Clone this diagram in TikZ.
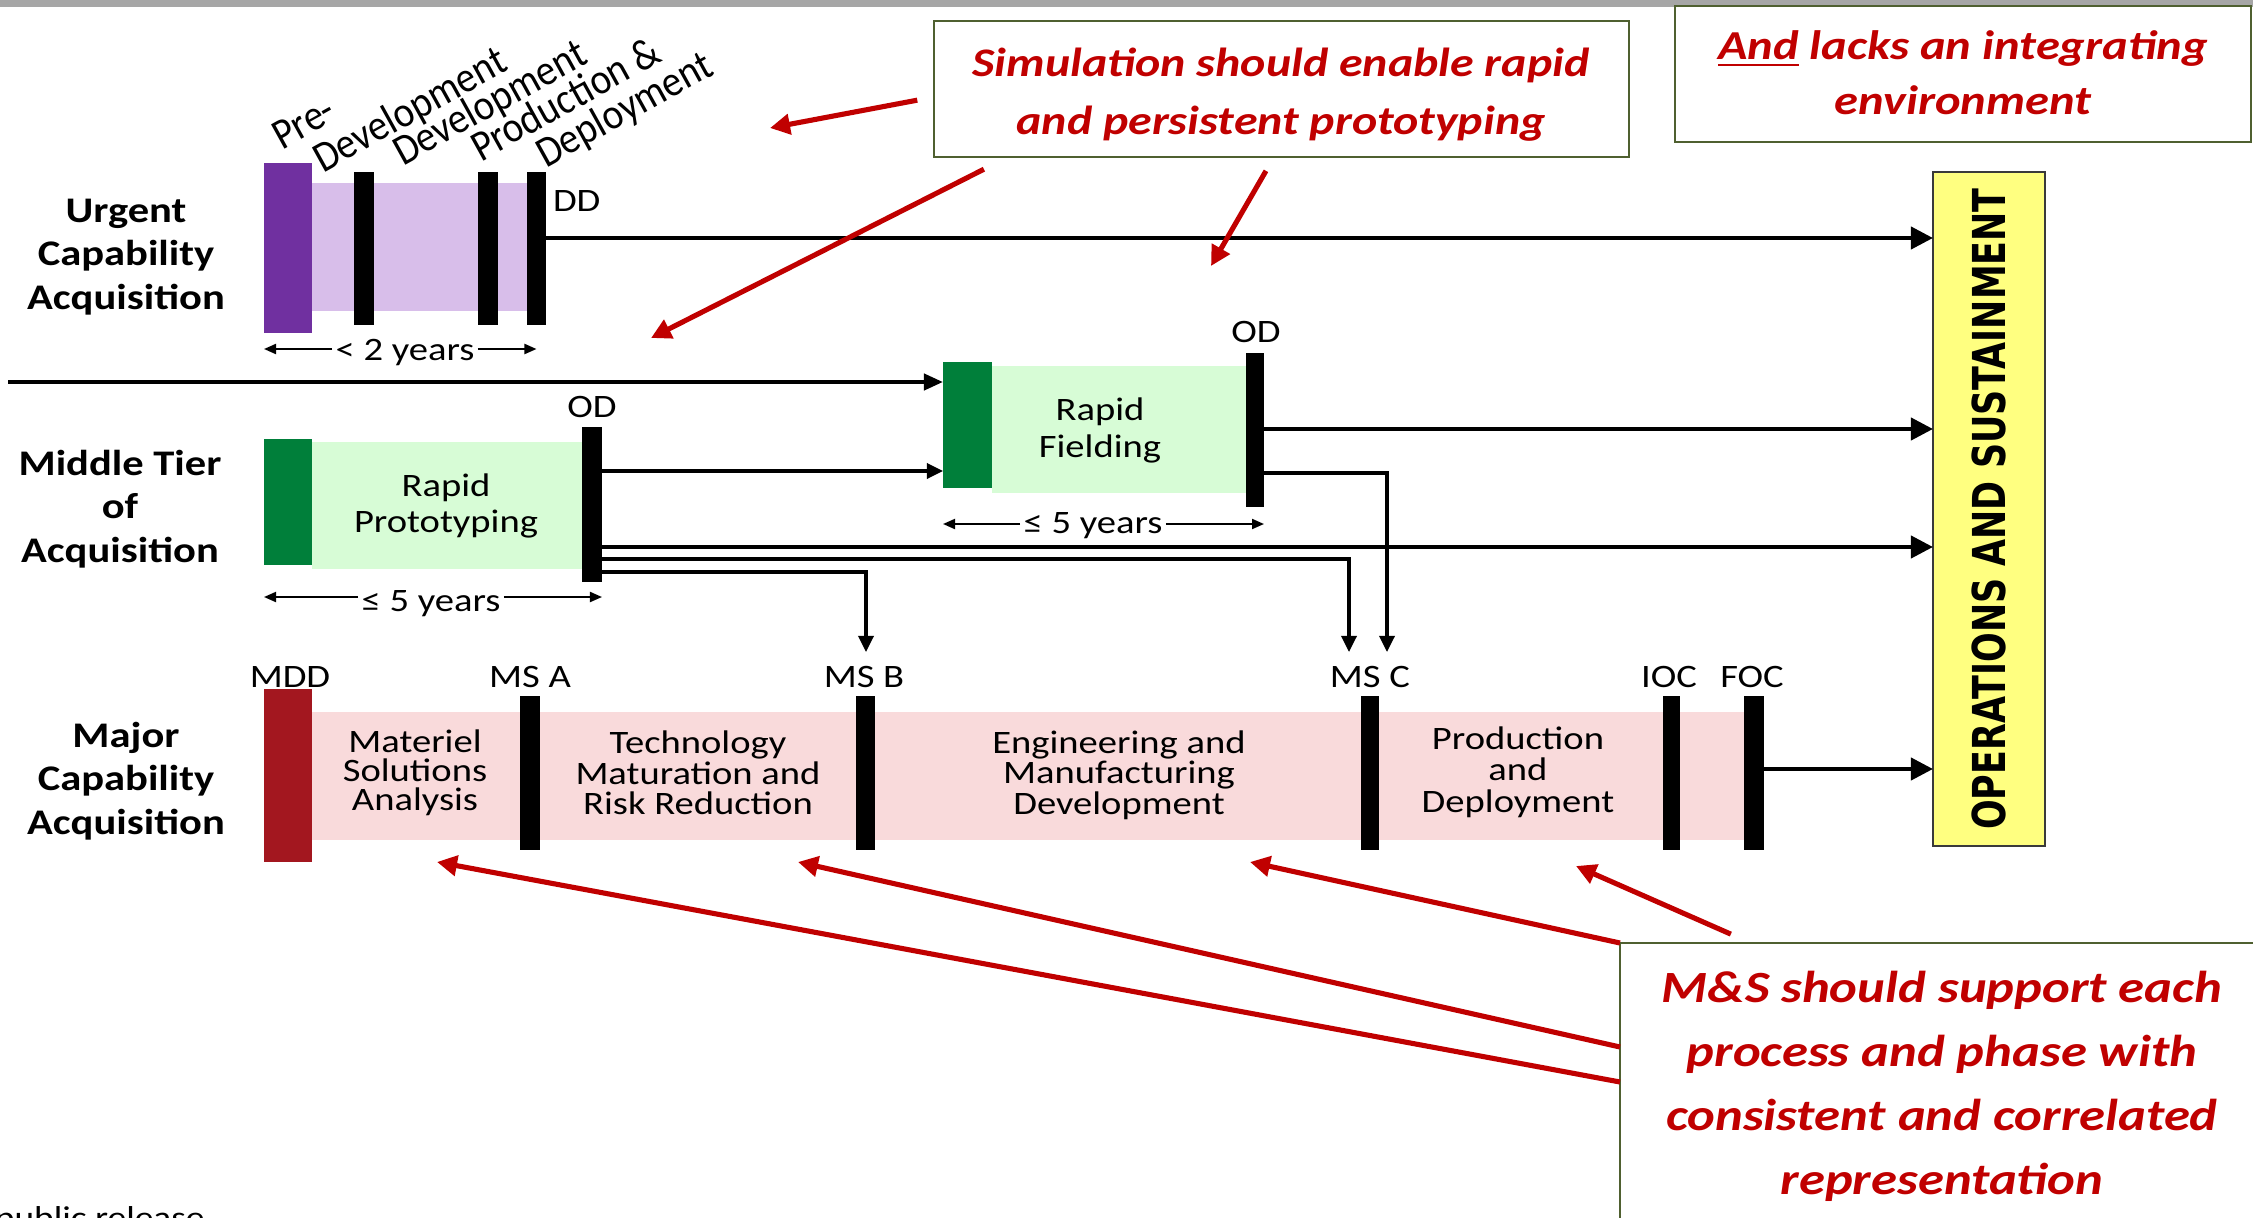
\documentclass[tikz,border=0pt]{standalone}
\usepackage{fontspec}
\setmainfont{Carlito}[FakeStretch=1.18]
\newfontfamily\slantfont{Carlito}[FakeStretch=0.9]
\newfontfamily\opsfont{DejaVu Sans}[FakeStretch=0.77]
\usetikzlibrary{arrows.meta,fit,calc}

\definecolor{purpleD}{HTML}{7030A0}
\definecolor{purpleL}{HTML}{D8BEEA}
\definecolor{greenD}{HTML}{007F3A}
\definecolor{greenL}{HTML}{D7FCD6}
\definecolor{redD}{HTML}{A3171F}
\definecolor{pinkL}{HTML}{F9DADB}
\definecolor{opsyellow}{HTML}{FFFF80}
\definecolor{opsline}{HTML}{3A3A3A}
\definecolor{noteline}{HTML}{4F6030}
\definecolor{calloutred}{HTML}{C00000}
\definecolor{topgray}{HTML}{A6A6A6}

\begin{document}
\begin{tikzpicture}[x=0.01cm, y=-0.01cm,
  every node/.style={inner sep=0pt, outer sep=0pt},
  blk/.style={inner sep=0pt, outer sep=0pt},
  bar/.style={blk, fill=black},
  track/.style={font=\bfseries\fontsize{10.25}{12.3}\selectfont, align=center},
  phase/.style={align=center, font=\fontsize{9.3}{#1}\selectfont},
  gate/.style={font=\fontsize{9.3}{10}\selectfont, anchor=base},
  span/.style={font=\fontsize{9.3}{10}\selectfont, inner xsep=1pt},
  slanted/.style={font=\slantfont\fontsize{12.3}{13}\selectfont, anchor=base west, rotate=29},
  flow/.style={line width=0.95pt, -{Triangle[length=0.16cm,width=0.15cm]}},
  feed/.style={line width=1.15pt, -{Triangle[length=0.22cm,width=0.22cm]}},
  dim/.style={line width=0.55pt, -{Triangle[length=0.12cm,width=0.1cm]}},
  note/.style={draw=noteline, line width=0.55pt, inner sep=0pt},
  notetext/.style={text=calloutred, align=center},
  callout/.style={draw=calloutred, line width=1.45pt, -{Triangle[length=0.2cm,width=0.2cm]}}
]
\useasboundingbox (0,0) rectangle (2253,1218);

% header strip
\fill[topgray] (0,0) rectangle (2253,7);

% ---------------- Urgent Capability Acquisition ----------------
\node[track] (tUCA) at (126,257) {Urgent\\Capability\\Acquisition};
\node[blk, fill=purpleL, fit={(312,183)(528,311)}] (ucaBand) {};
\node[blk, fill=purpleD, fit={(264,163)(312,333)}] (ucaStart) {};
\node[bar, fit={(354,172)(374,325)}] (ucaM1) {};
\node[bar, fit={(478,172)(498,325)}] (ucaM2) {};
\node[bar, fit={(527,172)(546,325)}] (ucaDD) {};
\node[gate, anchor=base west] (lDD) at (553,212) {DD};

\node[slanted] (phPre1) at (282,150) {Pre-};
\node[slanted] (phPre2) at (323,173) {Development};
\node[slanted] (phDev) at (403,166) {Development};
\node[slanted] (phPD1) at (481,162) {Production \&};
\node[slanted] (phPD2) at (546,168) {Deployment};

\node[span] (sU) at (405,353) {< 2 years};
\draw[dim] (sU.west |- 0,349) -- (ucaStart.west |- 0,349);
\draw[dim] (sU.east |- 0,349) -- (ucaDD.center |- 0,349);

% ---------------- Middle Tier of Acquisition ----------------
\node[track] (tMTA) at (120,509) {Middle Tier\\of\\Acquisition};
\node[blk, fill=greenL, fit={(312,442)(582,569)}] (rpBand) {};
\node[blk, fill=greenD, fit={(264,439)(312,565)}] (rpStart) {};
\node[bar, fit={(582,427)(602,582)}] (rpOD) {};
\node[phase=10pt] (tRP) at (446,506) {Rapid\\Prototyping};
\node[gate] (lODp) at (592,417) {OD};
\node[span] (sRP) at (431,604) {≤ 5 years};
\draw[dim] (sRP.west |- 0,597) -- (rpStart.west |- 0,597);
\draw[dim] (sRP.east |- 0,597) -- (rpOD.east |- 0,597);

\node[blk, fill=greenL, fit={(992,366)(1246,493)}] (rfBand) {};
\node[blk, fill=greenD, fit={(943,362)(992,488)}] (rfStart) {};
\node[bar, fit={(1246,353)(1264,507)}] (rfOD) {};
\node[phase=10.5pt] (tRF) at (1100,430) {Rapid\\Fielding};
\node[gate] (lODf) at (1256,342) {OD};
\node[span] (sRF) at (1093,526) {≤ 5 years};
\draw[dim] (sRF.west |- 0,524) -- (rfStart.west |- 0,524);
\draw[dim] (sRF.east |- 0,524) -- (rfOD.east |- 0,524);

% ---------------- Major Capability Acquisition ----------------
\node[track] (tMCA) at (126,781) {Major\\Capability\\Acquisition};
\node[blk, fill=pinkL, fit={(312,712)(1745,840)}] (mcaBand) {};
\node[blk, fill=redD, fit={(264,689)(312,862)}] (mdd) {};
\node[bar, fit={(520,696)(540,850)}] (msA) {};
\node[bar, fit={(856,696)(875,850)}] (msB) {};
\node[bar, fit={(1361,696)(1379,850)}] (msC) {};
\node[bar, fit={(1663,696)(1680,850)}] (ioc) {};
\node[bar, fit={(1744,696)(1764,850)}] (foc) {};
\node[gate] (lMDD) at (290,687) {MDD};
\node[gate] (lMSA) at (530,687) {MS A};
\node[gate] (lMSB) at (864,687) {MS B};
\node[gate] (lMSC) at (1370,687) {MS C};
\node[gate] (lIOC) at (1669,687) {IOC};
\node[gate] (lFOC) at (1752,687) {FOC};
\node[phase=8.3pt] (tMSA) at (415,773) {Materiel\\Solutions\\Analysis};
\node[phase=8.7pt] (tTMRR) at (698,773) {Technology\\Maturation and\\Risk Reduction};
\node[phase=8.7pt] (tEMD) at (1119,775) {Engineering and\\Manufacturing\\Development};
\node[phase=8.9pt] (tPD) at (1518,772) {Production\\and\\Deployment};

% ---------------- Operations and Sustainment ----------------
\node[draw=opsline, line width=0.6pt, fill=opsyellow, minimum width=1.12cm, minimum height=6.74cm] (ops) at (1989,509) {};
\node[rotate=90, font=\opsfont\bfseries\fontsize{12.9}{14}\selectfont] (tOps) at (ops.center) {OPERATIONS AND SUSTAINMENT};

% ---------------- flows ----------------
\coordinate (feedIn) at (8,382);
\coordinate (inB) at (866,652);
\coordinate (inC1) at (1349,652);
\coordinate (inC2) at (1387,652);
\draw[line width=1.15pt, -{Triangle[length=0.19cm,width=0.16cm]}] (feedIn) -- (rfStart.west |- feedIn);
\draw[feed] (ucaDD.east |- 0,238) -- (ops.west |- 0,238);
\draw[flow] (rpOD.east |- 0,471) -- (rfStart.west |- 0,471);
\draw[feed] (rpOD.east |- 0,547) -- (ops.west |- 0,547);
\draw[flow] (rpOD.east |- 0,559) -| (inC1);
\draw[flow] (rpOD.east |- 0,572) -| (inB);
\draw[feed] (rfOD.east |- 0,429) -- (ops.west |- 0,429);
\draw[flow] (rfOD.east |- 0,473) -| (inC2);
\draw[feed] (foc.east |- 0,769) -- (ops.west |- 0,769);

% ---------------- notes ----------------
\node[note, fit={(934,21)(1629,157)}] (simBox) {};
\node[notetext, font=\bfseries\itshape\fontsize{11.55}{16.5}\selectfont] (simText) at (1281,95)
  {Simulation should enable rapid\\and persistent prototyping};
\node[note, fit={(1675,6)(2251,142)}] (envBox) {};
\node[notetext, font=\bfseries\itshape\fontsize{11.7}{15.6}\selectfont] (envText) at (1963,73)
  {\underline{And} lacks an integrating\\environment};
\node[note, fit={(1620,943)(2280,1250)}] (msBox) {};
\node[notetext, font=\bfseries\itshape\fontsize{12.7}{18.2}\selectfont] (msText) at (1942,1086)
  {M\&S should support each\\process and phase with\\consistent and correlated\\representation};

\coordinate (tipTop) at (770,128);
\coordinate (tipUCA) at (651,338);
\coordinate (tipRF) at (1211,266);
\draw[callout, shorten <=0.17cm] (simBox.west |- 0,97) -- (tipTop);
\draw[callout, shorten <=0.27cm] (simBox.south -| 1008,0) -- (tipUCA);
\draw[callout, shorten <=0.16cm] (simBox.south -| 1274,0) -- (tipRF);

\coordinate (tipMSA) at (437,862);
\coordinate (tipTMRR) at (798,862);
\coordinate (tipEMD) at (1250,862);
\coordinate (tipPD) at (1576,866);
\draw[callout] (msBox.north west) -- (tipEMD);
\draw[callout, shorten <=0.22cm] (msBox.north -| 1751,0) -- (tipPD);
\draw[callout] (msBox.west |- 0,1047) -- (tipTMRR);
\draw[callout] (msBox.west |- 0,1082) -- (tipMSA);

% footer
\node[anchor=base west, font=\fontsize{9}{10}\selectfont] (foot) at (-5,1228) {public release};
\end{tikzpicture}
\end{document}
